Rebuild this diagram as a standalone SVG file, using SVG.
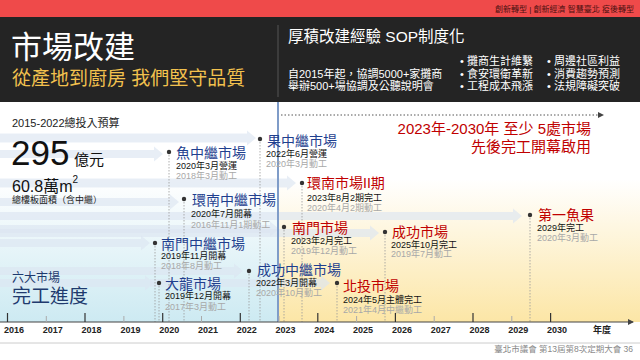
<svg xmlns="http://www.w3.org/2000/svg" width="640" height="360" viewBox="0 0 640 360">
<defs>
<linearGradient id="gL" x1="0" y1="0" x2="0" y2="1"><stop offset="0" stop-color="#ffffff"/><stop offset="0.35" stop-color="#ffffff"/><stop offset="1" stop-color="#cdeaf2"/></linearGradient>
<linearGradient id="gR" x1="0" y1="0" x2="0" y2="1"><stop offset="0" stop-color="#ffffff"/><stop offset="0.35" stop-color="#ffffff"/><stop offset="1" stop-color="#fce6a6"/></linearGradient>
<marker id="ah" viewBox="0 0 6 6" refX="5" refY="3" markerWidth="6" markerHeight="6" orient="auto" markerUnits="userSpaceOnUse"><path d="M0,0 L6,3 L0,6 Z" fill="#444"/></marker>
</defs>
<style>
text{font-family:"Liberation Sans","Noto Sans CJK TC",sans-serif}
.band{fill:#dbe5f1;opacity:0.65}
.dot{fill:#333}
.vd{stroke:#9a9a9a;stroke-width:0.8;stroke-dasharray:1.5 1.5;fill:none}
.tb{fill:#1f3f8f;font-size:14px}
.tr{fill:#c00000;font-size:14px}
.d1{fill:#111;font-size:9px}
.d2{fill:#a8a8a8;font-size:9px}
.yr{fill:#222;font-size:9px;font-weight:600;text-anchor:middle}
.tk{stroke:#333;stroke-width:1.2}
.tk2{stroke:#aaa;stroke-width:1}
.bl{fill:#fff;font-size:11px}
</style>
<rect x="0" y="0" width="640" height="360" fill="#fff"/>
<g id="header">
<rect x="0" y="0" width="640" height="17" fill="#ef4a4a"/>
<text x="634" y="11.5" font-size="8" fill="#4a1010" text-anchor="end">創新轉型 | 創新經濟 智慧臺北 疫後轉型</text>
<rect x="0" y="17" width="640" height="85" fill="#242424"/>
<line x1="278" y1="25" x2="278" y2="97" stroke="#555" stroke-width="1"/>
<text x="11" y="58" font-size="31" fill="#fff">市場改建</text>
<text x="12" y="85" font-size="19" fill="#f2c14e">從產地到廚房 我們堅守品質</text>
<text x="288" y="42" font-size="15.5" fill="#fff">厚積改建經驗 SOP制度化</text>
<text x="288" y="77.5" font-size="11" fill="#fff">自2015年起，協調5000+家攤商</text>
<text x="288" y="89.5" font-size="11" fill="#fff">舉辦500+場協調及公聽說明會</text>
<text x="460" y="65" class="bl">•  攤商生計維繫</text>
<text x="460" y="77.5" class="bl">•  食安環衛革新</text>
<text x="460" y="89.5" class="bl">•  工程成本飛漲</text>
<text x="547" y="65" class="bl">•  周邊社區利益</text>
<text x="547" y="77.5" class="bl">•  消費趨勢預測</text>
<text x="547" y="89.5" class="bl">•  法規障礙突破</text>
</g>
<g id="background">
<rect x="0" y="102" width="278" height="220" fill="url(#gL)"/>
<rect x="278" y="102" width="362" height="220" fill="url(#gR)"/>
</g>
<g id="bands">
<polygon class="band" points="0,133.5 247,133.5 247,130.5 256,138 247,145.5 247,142.5 0,142.5"/>
<polygon class="band" points="0,150 154,150 154,146.5 163,154 154,161.5 154,158 0,158"/>
<polygon class="band" points="0,178.5 287,178.5 287,175.5 296,183 287,190.5 287,187.5 0,187.5"/>
<polygon class="band" points="0,198 170,198 170,194.5 179,202 170,209.5 170,206 0,206"/>
<polygon class="band" points="0,212 513,212 513,208.5 522,216 513,223.5 513,220 0,220"/>
<polygon class="band" points="0,225 270,225 270,221.5 279,229 270,236.5 270,233 0,233"/>
<polygon class="band" points="0,229 370,229 370,225.5 379,233 370,240.5 370,237 0,237"/>
<polygon class="band" points="0,239 141,239 141,235.5 150,243 141,250.5 141,247 0,247"/>
<polygon class="band" points="0,267 234,267 234,263.5 243,271 234,278.5 234,275 0,275"/>
<polygon class="band" points="0,279 145,279 145,275.5 154,283 145,290.5 145,287 0,287"/>
<polygon class="band" points="150,279 321,279 321,275.5 330,283 321,290.5 321,287 150,287"/>
</g>
<g id="summary">
<text x="12" y="127" font-size="11" fill="#222">2015-2022總投入預算</text>
<text x="11" y="165" font-size="35" fill="#111">295</text>
<text x="74" y="165" font-size="15" fill="#111">億元</text>
<text x="12" y="192" font-size="16" fill="#111">60.8萬m<tspan font-size="10" dy="-9">2</tspan></text>
<text x="12" y="203" font-size="9" fill="#222">總樓板面積（含中繼）</text>
<text x="12" y="282" font-size="12" fill="#1f3a6e">六大市場</text>
<text x="12" y="303" font-size="19" fill="#1f3a6e">完工進度</text>
</g>
<g id="connectors">
<line class="vd" x1="169" y1="152" x2="169" y2="322"/>
<line class="vd" x1="260" y1="139" x2="260" y2="322"/>
<line class="vd" x1="184" y1="199" x2="184" y2="322"/>
<line class="vd" x1="302" y1="183" x2="302" y2="322"/>
<line class="vd" x1="284" y1="227" x2="284" y2="322"/>
<line class="vd" x1="385" y1="232" x2="385" y2="322"/>
<line class="vd" x1="530" y1="215" x2="530" y2="322"/>
<line class="vd" x1="155" y1="243" x2="155" y2="322"/>
<line class="vd" x1="159" y1="283" x2="159" y2="322"/>
<line class="vd" x1="249" y1="271" x2="249" y2="322"/>
<line class="vd" x1="337" y1="283" x2="337" y2="322"/>
<line x1="278" y1="102" x2="278" y2="322" stroke="#7f9cc8" stroke-width="2"/>
<line x1="281" y1="115" x2="603" y2="115" stroke="#555" stroke-width="1" stroke-dasharray="1.5 2" marker-end="url(#ah)"/>
</g>
<g id="goal">
<text x="591" y="134" font-size="15" fill="#c00000" text-anchor="end">2023年-2030年 至少 5處市場</text>
<text x="591" y="152" font-size="15" fill="#c00000" text-anchor="end">先後完工開幕啟用</text>
</g>
<g id="n-yu"><circle class="dot" cx="169" cy="152" r="2.2"/><text x="176" y="158" class="tb">魚中繼市場</text><text x="176" y="168.5" class="d1">2020年3月營運</text><text x="176" y="178.5" class="d2">2018年3月動工</text></g>
<g id="n-guo"><circle class="dot" cx="260" cy="139" r="2.2"/><text x="267" y="146" class="tb">果中繼市場</text><text x="266" y="157" class="d1">2022年6月營運</text><text x="266" y="167" class="d2">2020年3月動工</text></g>
<g id="n-huannan-z"><circle class="dot" cx="184" cy="199" r="2.2"/><text x="192" y="205" class="tb">環南中繼市場</text><text x="191" y="217" class="d1">2020年7月開幕</text><text x="191" y="228" class="d2">2016年11月1期動工</text></g>
<g id="n-huannan2"><circle class="dot" cx="302" cy="183" r="2.2"/><text x="307" y="188" class="tr">環南市場II期</text><text x="307" y="201" class="d1">2023年8月2期完工</text><text x="307" y="210.5" class="d2">2020年4月2期動工</text></g>
<g id="n-nanmen"><circle class="dot" cx="284" cy="227" r="2.2"/><text x="292" y="233" class="tr">南門市場</text><text x="291" y="244" class="d1">2023年2月完工</text><text x="291" y="254" class="d2">2019年12月動工</text></g>
<g id="n-chenggong"><circle class="dot" cx="385" cy="232" r="2.2"/><text x="392" y="237" class="tr">成功市場</text><text x="391" y="247.5" class="d1">2025年10月完工</text><text x="391" y="257" class="d2">2019年7月動工</text></g>
<g id="n-diyi"><circle class="dot" cx="530" cy="215" r="2.2"/><text x="538" y="220" class="tr">第一魚果</text><text x="537" y="231" class="d1">2029年完工</text><text x="537" y="240.5" class="d2">2020年3月動工</text></g>
<g id="n-nanmen-z"><circle class="dot" cx="155" cy="243" r="2.2"/><text x="161" y="248.5" class="tb">南門中繼市場</text><text x="161" y="259" class="d1">2019年11月開幕</text><text x="161" y="268.5" class="d2">2018年8月動工</text></g>
<g id="n-dalong"><circle class="dot" cx="159" cy="283" r="2.2"/><text x="165" y="288.5" class="tb">大龍市場</text><text x="165" y="299" class="d1">2019年12月開幕</text><text x="165" y="309.5" class="d2">2017年3月動工</text></g>
<g id="n-chenggong-z"><circle class="dot" cx="249" cy="271" r="2.2"/><text x="257" y="275" class="tb">成功中繼市場</text><text x="256" y="285.5" class="d1">2022年3月開幕</text><text x="256" y="295.5" class="d2">2020年10月動工</text></g>
<g id="n-beitou"><circle class="dot" cx="337" cy="283" r="2.2"/><text x="343" y="291" class="tr">北投市場</text><text x="343" y="303" class="d1">2024年5月主體完工</text><text x="343" y="312.5" class="d2">2021年4月中繼動工</text></g>
<g id="axis">
<line x1="0" y1="322" x2="633" y2="322" stroke="#444" stroke-width="1" marker-end="url(#ah)"/>
<line class="tk" x1="7.5" y1="313" x2="7.5" y2="322"/>
<line class="tk2" x1="46.3" y1="316" x2="46.3" y2="322"/>
<line class="tk" x1="85" y1="313" x2="85" y2="322"/>
<line class="tk2" x1="123.9" y1="316" x2="123.9" y2="322"/>
<line class="tk" x1="162.7" y1="313" x2="162.7" y2="322"/>
<line class="tk2" x1="201.5" y1="316" x2="201.5" y2="322"/>
<line class="tk" x1="240.3" y1="313" x2="240.3" y2="322"/>
<line class="tk2" x1="279" y1="316" x2="279" y2="322"/>
<line class="tk" x1="317.8" y1="313" x2="317.8" y2="322"/>
<line class="tk2" x1="356.6" y1="316" x2="356.6" y2="322"/>
<line class="tk" x1="395.4" y1="313" x2="395.4" y2="322"/>
<line class="tk2" x1="434.2" y1="316" x2="434.2" y2="322"/>
<line class="tk" x1="473" y1="313" x2="473" y2="322"/>
<line class="tk2" x1="511.8" y1="316" x2="511.8" y2="322"/>
<line class="tk" x1="550.6" y1="313" x2="550.6" y2="322"/>
<text class="yr" x="14" y="333">2016</text>
<text class="yr" x="52.8" y="333">2017</text>
<text class="yr" x="91.6" y="333">2018</text>
<text class="yr" x="130.4" y="333">2019</text>
<text class="yr" x="169.2" y="333">2020</text>
<text class="yr" x="208" y="333">2021</text>
<text class="yr" x="246.8" y="333">2022</text>
<text class="yr" x="285.5" y="333">2023</text>
<text class="yr" x="324.3" y="333">2024</text>
<text class="yr" x="363.1" y="333">2025</text>
<text class="yr" x="401.9" y="333">2026</text>
<text class="yr" x="440.7" y="333">2027</text>
<text class="yr" x="479.5" y="333">2028</text>
<text class="yr" x="518.3" y="333">2029</text>
<text class="yr" x="557" y="333">2030</text>
<text class="yr" x="602" y="333">年度</text>
</g>
<g id="footer">
<line x1="0" y1="343" x2="640" y2="343" stroke="#ccc" stroke-width="1"/>
<text x="633" y="352" font-size="8.5" fill="#888" text-anchor="end">臺北市議會 第13屆第8次定期大會   36</text>
</g>
</svg>
